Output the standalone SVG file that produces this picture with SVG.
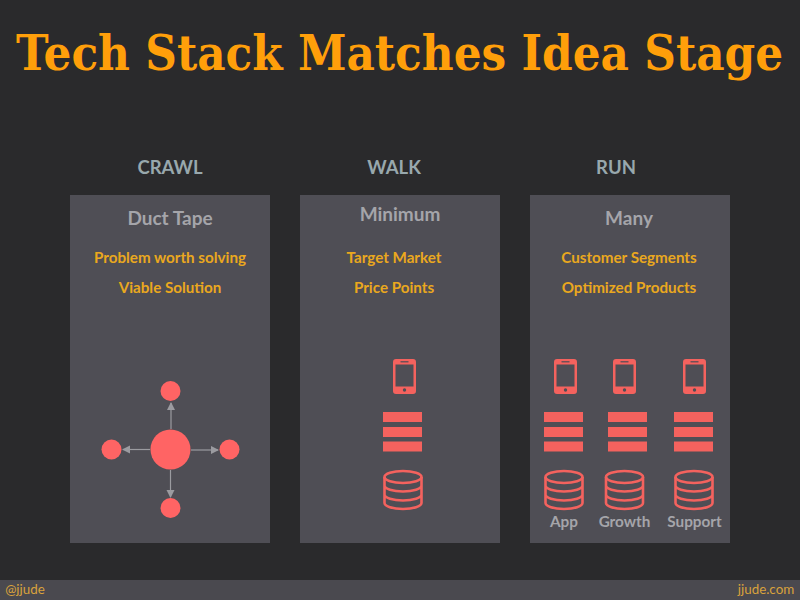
<svg xmlns="http://www.w3.org/2000/svg" xmlns:xlink="http://www.w3.org/1999/xlink" width="800" height="600" viewBox="0 0 800 600">
<style>
.bg{fill:#2a2a2c}
.panel{fill:#4f4e55}
.foot{fill:#4a494f}
text{font-family:Lato,"Open Sans","Liberation Sans",sans-serif;font-weight:700;text-anchor:middle}
.title{font-family:"DejaVu Serif","Liberation Serif",serif;font-size:49px;fill:#ff9f0a}
.stage{font-size:18.500px;fill:#98a8ad}
.head{font-size:19px;fill:#a5a5aa}
.item{font-size:15.200px;fill:#eaa81e}
.lab{font-size:15.300px;fill:#a5a5aa}
.fl{font-size:13.400px;font-weight:400;fill:#d9a23c}
.dot{fill:#ff6464}
.conn{stroke:#9b9ba0;stroke-width:1.200;fill:none;marker-end:url(#ah)}
.ic{fill:#f4625e}
.dbs{fill:none;stroke:#f4625e;stroke-width:2.6}
</style>
<defs>
<marker id="ah" viewBox="0 0 8 8" refX="7" refY="4" markerWidth="7" markerHeight="7" markerUnits="strokeWidth" orient="auto"><path d="M0 0L8 4L0 8Z" fill="#9b9ba0"/></marker>
<g id="phone"><path class="ic" fill-rule="evenodd" d="M3 0H20a3 3 0 0 1 3 3V32a3 3 0 0 1-3 3H3a3 3 0 0 1-3-3V3a3 3 0 0 1 3-3ZM2.500 5.500V27.500H20.500V5.500Z"/><rect x="7.500" y="2.200" width="8" height="1.200" fill="#4f4e55"/><circle cx="11.500" cy="31" r="1.700" fill="#4f4e55"/></g>
<g id="rows"><rect class="ic" width="39" height="10"/><rect class="ic" y="15" width="39" height="10"/><rect class="ic" y="29.500" width="39" height="10"/></g>
<g id="db"><ellipse class="dbs" cx="19.500" cy="7" rx="18.500" ry="6"/><path class="dbs" d="M1 7V33C1 36.300 9.300 39 19.500 39S38 36.300 38 33V7M1 15.500C1 18.800 9.300 21.500 19.500 21.500S38 18.800 38 15.500M1 24.500C1 27.800 9.300 30.500 19.500 30.500S38 27.800 38 24.500"/></g>
</defs>
<rect class="bg" width="800" height="600"/>
<text class="title" transform="translate(399.500 70) scale(.895 1)">Tech Stack Matches Idea Stage</text>
<g id="crawl">
<text class="stage" x="170" y="174">CRAWL</text>
<rect class="panel" x="70" y="195" width="200" height="348"/>
<text class="head" x="170" y="225">Duct Tape</text>
<text class="item" x="170" y="263">Problem worth solving</text>
<text class="item" x="170" y="293">Viable Solution</text>
</g>
<g id="walk">
<text class="stage" x="394" y="174">WALK</text>
<rect class="panel" x="300" y="195" width="200" height="348"/>
<text class="head" x="400" y="221">Minimum</text>
<text class="item" x="394" y="263">Target Market</text>
<text class="item" x="394" y="293">Price Points</text>
<use href="#phone" x="393" y="359"/>
<use href="#rows" x="383" y="412"/>
<use href="#db" x="383.500" y="470"/>
</g>
<g id="run">
<text class="stage" x="616" y="174">RUN</text>
<rect class="panel" x="530" y="195" width="200" height="348"/>
<text class="head" x="629" y="225">Many</text>
<text class="item" x="629" y="263">Customer Segments</text>
<text class="item" x="629" y="293">Optimized Products</text>
<use href="#phone" x="554" y="359"/>
<use href="#phone" x="613" y="359"/>
<use href="#phone" x="683" y="359"/>
<use href="#rows" x="544" y="412"/>
<use href="#rows" x="608" y="412"/>
<use href="#rows" x="674" y="412"/>
<use href="#db" x="544.500" y="470"/>
<use href="#db" x="605" y="470"/>
<use href="#db" x="674.500" y="470"/>
<text class="lab" x="564" y="527">App</text>
<text class="lab" x="624.500" y="527">Growth</text>
<text class="lab" x="694.500" y="527">Support</text>
</g>
<g id="hub"><circle class="dot" cx="170.500" cy="449.500" r="20"/></g>
<g id="node-top"><circle class="dot" cx="170.500" cy="391" r="10"/></g>
<g id="node-left"><circle class="dot" cx="111.500" cy="449.500" r="10"/></g>
<g id="node-right"><circle class="dot" cx="229.500" cy="449.500" r="10"/></g>
<g id="node-bottom"><circle class="dot" cx="170.500" cy="508" r="10"/></g>
<g id="connectors">
<line class="conn" x1="171" y1="429" x2="171" y2="403"/>
<line class="conn" x1="150" y1="449.500" x2="123" y2="449.500"/>
<line class="conn" x1="191" y1="450" x2="218" y2="450"/>
<line class="conn" x1="170.500" y1="470" x2="170.500" y2="497"/>
</g>
<g id="footer">
<rect class="foot" y="580" width="800" height="20"/>
<text class="fl" x="25" y="594">@jjude</text>
<text class="fl" x="766" y="594">jjude.com</text>
</g>
</svg>
